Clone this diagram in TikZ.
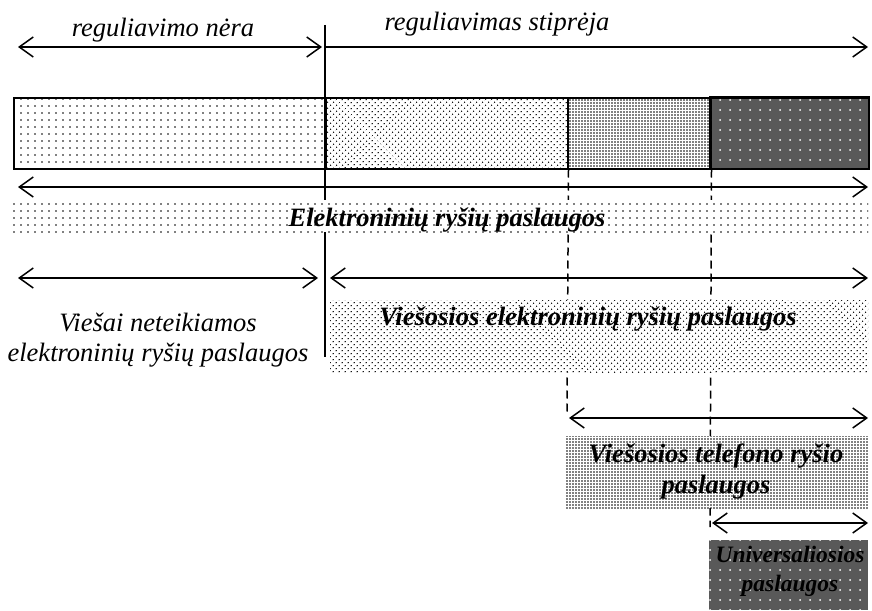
\documentclass[tikz,border=0pt]{standalone}
\usepackage{fontspec}
\setmainfont{Liberation Serif}
\usetikzlibrary{patterns.meta,arrows.meta}

\begin{document}
\begin{tikzpicture}[x=1pt, y=-1pt,
    seg/.style={draw, line width=1.5pt, anchor=north west, inner sep=0pt, minimum height=71pt},
    band/.style={anchor=north west, inner sep=0pt, preaction={fill=white}},
    dotsA/.style={pattern={Dots[distance=7pt, radius=0.9pt]}},
    dotsB/.style={pattern={Dots[distance=4pt, angle=45, radius=0.8pt]}},
    dotsC/.style={pattern={Dots[distance=3pt, radius=0.95pt]}},
    dark/.style={fill=black!65},
    whitedots/.style={pattern={Dots[distance=10pt, radius=1pt]}, pattern color=white},
    arrow/.style={<->, line width=1.5pt, >={Straight Barb[length=14pt, width=20pt]}},
    onearrow/.style={->, line width=1.5pt, >={Straight Barb[length=14pt, width=20pt]}},
    divider/.style={line width=1.5pt, dash pattern=on 8pt off 5pt},
    txt/.style={font=\fontsize{26.5}{30}\selectfont\itshape, align=center},
    btxt/.style={font=\fontsize{26.5}{31}\selectfont\bfseries\itshape, align=center}
]
    \useasboundingbox (0,0) rectangle (872,610);

    % Top: regulation
    \coordinate (topL) at (18,47);
    \coordinate (topM) at (322,47);
    \coordinate (topS) at (325,47);
    \coordinate (topR) at (868,47);
    \coordinate (splitTop) at (325,25);
    \coordinate (splitBot) at (325,357);
    \draw[arrow] (topL) -- (topM);
    \draw[onearrow] (topS) -- (topR);
    \draw[line width=1.5pt] (splitTop) -- (splitBot);
    \node[txt] (nera) at (163,30) {reguliavimo nėra};
    \node[txt] (stipreja) at (497,24) {reguliavimas stiprėja};

    % Bar
    \node[seg, dotsA, minimum width=312pt] (seg1) at (13,97) {};
    \node[seg, dotsB, minimum width=242pt] (seg2) at (325,97) {};
    \node[seg, dotsC, minimum width=143pt] (seg3) at (567,97) {};
    \node[seg, dark, minimum width=158pt] (seg4) at (710,97) {};
    \path[whitedots] (seg4.north west) rectangle (seg4.south east);
    \draw[line width=1.5pt] (seg4.north west) rectangle (seg4.south east);

    % Dashed dividers
    \coordinate (dashA) at (567,413);
    \coordinate (dashB) at (710,527);
    \draw[divider] (seg2.south east) -- (dashA);
    \draw[divider] (seg3.south east) -- (dashB);

    % Electronic communication services
    \coordinate (allL) at (18,187);
    \coordinate (allR) at (868,187);
    \draw[arrow] (allL) -- (allR);
    \node[band, dotsA, minimum width=855pt, minimum height=32pt] (bandA) at (13,200) {};
    \node[btxt] (ers) at (447,220) {Elektroninių ryšių paslaugos};

    % Public / non-public
    \coordinate (npL) at (18,278);
    \coordinate (npR) at (318,278);
    \coordinate (pubL) at (330,278);
    \coordinate (pubR) at (868,278);
    \draw[arrow] (npL) -- (npR);
    \draw[arrow] (pubL) -- (pubR);
    \node[txt] (nonpub) at (158,340) {Viešai neteikiamos\\elektroninių ryšių paslaugos};
    \node[band, dotsB, minimum width=538pt, minimum height=72pt] (bandB) at (330,300) {};
    \node[btxt] (pub) at (588,319) {Viešosios elektroninių ryšių paslaugos};

    % Public telephone services
    \coordinate (telL) at (569,418);
    \coordinate (telR) at (868,418);
    \draw[arrow] (telL) -- (telR);
    \node[band, dotsC, minimum width=303pt, minimum height=72pt] (bandC) at (565,436) {};
    \node[btxt] (tel) at (716,471) {Viešosios telefono ryšio\\paslaugos};

    % Universal services
    \coordinate (uniL) at (712,523);
    \coordinate (uniR) at (868,523);
    \draw[arrow] (uniL) -- (uniR);
    \node[band, dark, minimum width=159pt, minimum height=70pt] (bandD) at (709,540) {};
    \path[whitedots] (bandD.north west) rectangle (bandD.south east);
    \node[btxt, font=\fontsize{23.5}{29}\selectfont\bfseries\itshape] (uni) at (790,571) {Universaliosios\\paslaugos};
\end{tikzpicture}
\end{document}
